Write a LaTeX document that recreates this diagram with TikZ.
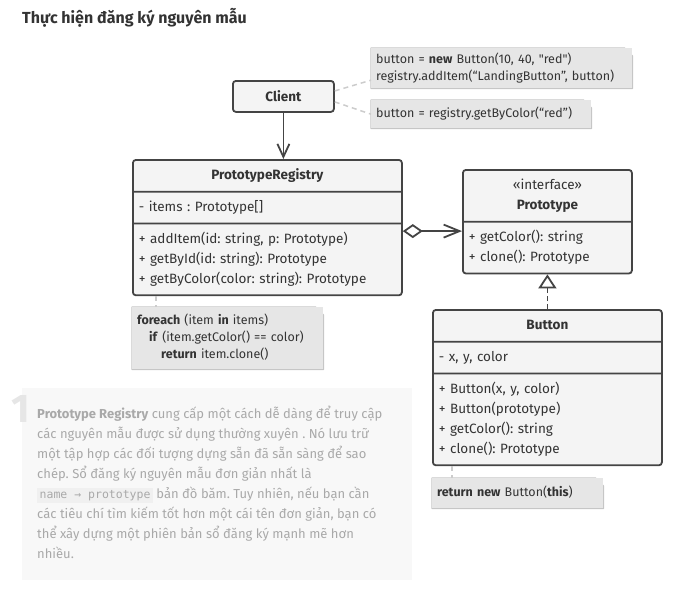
\documentclass[tikz,border=0pt]{standalone}
\usepackage{fontspec}
\setmainfont{Fira Sans}[Ligatures=TeXOff]
\setmonofont{DejaVu Sans Mono}
\usetikzlibrary{arrows.meta,positioning,shapes.multipart}

\definecolor{ink}{HTML}{333333}
\definecolor{umlline}{HTML}{444444}
\definecolor{umlfill}{HTML}{F4F4F4}
\definecolor{notefill}{HTML}{E6E6E6}
\definecolor{notebd}{HTML}{C6C6C6}
\definecolor{linkgray}{HTML}{CCCCCC}
\definecolor{descbg}{HTML}{F8F8F8}
\definecolor{desctext}{HTML}{A9A9A9}
\definecolor{numgray}{HTML}{E6E6E6}
\definecolor{codebg}{HTML}{F0F0F0}

\frenchspacing
\newcommand\umlfont{\fontsize{13.5}{20}\selectfont}
\newcommand\notefont{\fontsize{12.5}{17}\selectfont}
\newcommand\midline[1]{\hspace*{\fill}#1\hspace*{\fill}}
\newcommand\codechip[1]{{\setlength\fboxsep{2.5pt}\colorbox{codebg}{\fontsize{11.5}{12}\selectfont\ttfamily #1}}}

\begin{document}
\begin{tikzpicture}[
		x = 1pt, y = 1pt,
		> = {Straight Barb[length=13pt,width=12pt]},
		every node/.style = {text=ink},
		boxbase/.style = {draw=umlline, fill=umlfill, line width=1.8pt, rounded corners=3pt, font=\umlfont},
		umlclass/.style = {boxbase, rectangle split, rectangle split parts=3,
			inner xsep=6pt, inner ysep=5pt, align=left, anchor=north west},
		notebox/.style = {fill=notefill, inner xsep=5pt, inner ysep=3pt, align=left,
			font=\notefont, anchor=north west,
			append after command={\pgfextra{
				\fill[white] ([xshift=-8pt]\tikzlastnode.north east) -- (\tikzlastnode.north east)
					-- ([yshift=-8pt]\tikzlastnode.north east) -- cycle;
				\draw[notebd, line width=1.5pt, line join=round]
					(\tikzlastnode.north west) -- ([xshift=-8pt]\tikzlastnode.north east)
					-- ([yshift=-8pt]\tikzlastnode.north east) -- (\tikzlastnode.south east)
					-- (\tikzlastnode.south west) -- cycle
					([xshift=-8pt]\tikzlastnode.north east) |- ([yshift=-8pt]\tikzlastnode.north east);
			}}},
		notelink/.style = {linkgray, line width=1.5pt, dash pattern=on 5pt off 4pt},
		umlarrow/.style = {umlline, line width=1.8pt}
		]
		\useasboundingbox (0,0) rectangle (694,-595);

		\node[anchor=base west, inner sep=0, font=\fontsize{16}{20}\selectfont\bfseries] (title) at (22,-23)
			{Thực hiện đăng ký nguyên mẫu};

		% classes
		\node[boxbase, minimum width=101pt, minimum height=31pt, anchor=north west] (client) at (232,-80)
			{\textbf{Client}};
		\node[umlclass, text width=257pt] (registry) at (132,-159) {
			\midline{\strut\textbf{PrototypeRegistry}}
			\nodepart{two}\strut- items : Prototype[]
			\nodepart{three}\strut+ addItem(id: string, p: Prototype)\\
			\strut+ getById(id: string): Prototype\\
			\strut+ getByColor(color: string): Prototype};
		\node[umlclass, rectangle split parts=2, text width=157pt] (proto) at (462,-169) {
			\midline{\strut«interface»}\par
			\midline{\strut\textbf{Prototype}}
			\nodepart{two}\strut+ getColor(): string\\
			\strut+ clone(): Prototype};
		\node[umlclass, text width=217pt] (button) at (432,-309) {
			\midline{\strut\textbf{Button}}
			\nodepart{two}\strut- x, y, color
			\nodepart{three}\strut+ Button(x, y, color)\\
			\strut+ Button(prototype)\\
			\strut+ getColor(): string\\
			\strut+ clone(): Prototype};

		% notes
		\node[notebox, text width=251pt, minimum height=40pt] (addnote) at (371,-48)
			{\strut button = \textbf{new} Button(10, 40, "red")\\
			\strut registry.addItem(“LandingButton”, button)};
		\node[notebox, text width=210pt, minimum height=28pt] (getnote) at (371,-100)
			{\strut button = registry.getByColor(“red”)};
		\node[notebox, text width=181pt, minimum height=62pt] (loopnote) at (132,-307)
			{\strut\textbf{foreach} (item \textbf{in} items)\\
			\strut\hspace*{12pt}\textbf{if} (item.getColor() == color)\\
			\strut\hspace*{24pt}\textbf{return} item.clone()};
		\node[notebox, text width=161pt, minimum height=30pt] (clonenote) at (432,-478)
			{\strut\textbf{return new} Button(\textbf{this})};

		% links
		\draw[umlarrow, ->] (client.south) -- (client.south |- registry.north);
		\draw[umlarrow, {Diamond[fill=white,length=20pt,width=14pt]}-{Straight Barb[length=16pt,width=13pt]}]
			([yshift=-3.5pt]registry.east) -- ([yshift=-3.5pt]registry.east -| proto.west);
		\draw[umlarrow, dash pattern=on 5pt off 3pt, -{Triangle[open,length=14pt,width=18pt]}]
			(button.north) -- (proto.south);
		\draw[notelink] ([yshift=5.5pt]client.east) -- ([yshift=-12pt]addnote.west);
		\draw[notelink] ([yshift=-5.5pt]client.east) -- (getnote.west);
		\draw[notelink] ([xshift=24pt]registry.south west) -- ([xshift=24pt]loopnote.north west);
		\draw[notelink] ([xshift=20pt]button.south west) -- ([xshift=20pt]clonenote.north west);

		% description
		\node[fill=descbg, minimum width=390pt, minimum height=192pt, inner sep=0, anchor=north west]
			(descbox) at (22,-388) {};
		\node[text=numgray, inner sep=0, anchor=base west, font=\fontsize{40}{40}\selectfont\bfseries]
			(num) at (11,-422) {1};
		\node[text=desctext, inner sep=0, anchor=north west, align=left, font=\fontsize{13}{20}\selectfont]
			(desc) at (37,-404) {\strut\textbf{Prototype Registry} cung cấp một cách dễ dàng để truy cập\\
			các nguyên mẫu được sử dụng thường xuyên . Nó lưu trữ\\
			một tập hợp các đối tượng dựng sẵn đã sẵn sàng để sao\\
			chép. Sổ đăng ký nguyên mẫu đơn giản nhất là\\
			\codechip{name → prototype} bản đồ băm. Tuy nhiên, nếu bạn cần\\
			các tiêu chí tìm kiếm tốt hơn một cái tên đơn giản, bạn có\\
			thể xây dựng một phiên bản sổ đăng ký mạnh mẽ hơn\\
			nhiều.};
\end{tikzpicture}
\end{document}
